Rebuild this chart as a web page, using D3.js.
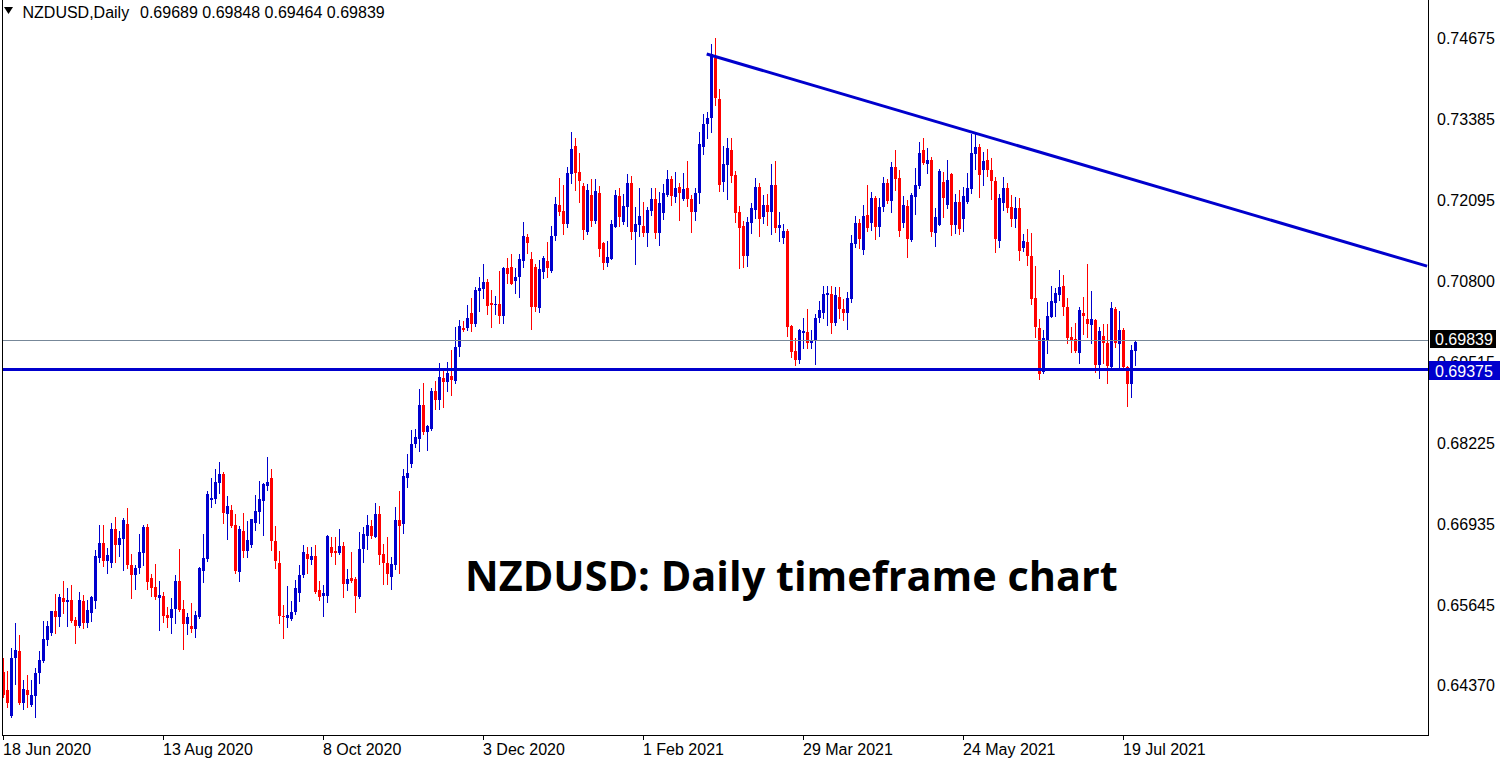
<!DOCTYPE html>
<html><head><meta charset="utf-8">
<script src="https://cdn.jsdelivr.net/npm/d3@7"></script>
<style>html,body{margin:0;padding:0;background:#fff;overflow:hidden}</style>
</head><body>
<svg id="chart" width="1510" height="764"></svg>
<script>
// ---------------- DATA ----------------
const symbolName = "NZDUSD,Daily";
const lastBarText = ["0.69689", "0.69848", "0.69464", "0.69839"];
const chartTitle = "NZDUSD: Daily timeframe chart";
const dateLabels = ["18 Jun 2020", "13 Aug 2020", "8 Oct 2020", "3 Dec 2020", "1 Feb 2021", "29 Mar 2021", "24 May 2021", "19 Jul 2021"];
const dateLabelBars = [0, 40, 80, 120, 160, 200, 240, 280];
const priceTickLabels = ["0.74675", "0.73385", "0.72095", "0.70800", "0.69515", "0.68225", "0.66935", "0.65645", "0.64370"];
const bidLevel = 0.69839;
const bidLabel = "0.69839";
const supportLevel = 0.69375;
const supportLabel = "0.69375";
const trendBars = [175.8, 355.9];
const trendPrices = [0.7442, 0.7104];

const opens = [
0.6458,0.6429,0.6387,0.6480,0.6491,0.6408,0.6429,0.6405,0.6419,0.6456,
0.6475,0.6508,0.6519,0.6554,0.6545,0.6575,0.6569,0.6572,0.6540,0.6530,
0.6570,0.6535,0.6551,0.6570,0.6639,0.6663,0.6634,0.6631,0.6686,0.6660,
0.6670,0.6694,0.6628,0.6612,0.6623,0.6647,0.6689,0.6607,0.6593,0.6575,
0.6578,0.6548,0.6543,0.6558,0.6602,0.6558,0.6534,0.6530,0.6526,0.6545,
0.6618,0.6638,0.6732,0.6733,0.6758,0.6773,0.6710,0.6716,0.6692,0.6617,
0.6682,0.6650,0.6660,0.6695,0.6713,0.6730,0.6754,0.6766,0.6666,0.6631,
0.6546,0.6543,0.6542,0.6553,0.6583,0.6612,0.6646,0.6636,0.6642,0.6588,
0.6578,0.6578,0.6657,0.6650,0.6647,0.6658,0.6598,0.6607,0.6606,0.6577,
0.6654,0.6674,0.6690,0.6673,0.6710,0.6646,0.6631,0.6609,0.6628,0.6700,
0.6694,0.6766,0.6789,0.6821,0.6829,0.6883,0.6840,0.6845,0.6905,0.6891,
0.6926,0.6920,0.6929,0.6921,0.6975,0.7005,0.7005,0.7029,0.7012,0.7064,
0.7068,0.7079,0.7045,0.7042,0.7044,0.7024,0.7101,0.7103,0.7080,0.7087,
0.7112,0.7150,0.7115,0.7103,0.7037,0.7095,0.7112,0.7096,0.7152,0.7201,
0.7192,0.7171,0.7251,0.7296,0.7254,0.7232,0.7159,0.7217,0.7176,0.7220,
0.7141,0.7109,0.7115,0.7166,0.7216,0.7174,0.7198,0.7236,0.7159,0.7170,
0.7168,0.7157,0.7192,0.7211,0.7157,0.7189,0.7217,0.7243,0.7214,0.7230,
0.7211,0.7228,0.7211,0.7190,0.7220,0.7294,0.7330,0.7340,0.7436,0.7370,
0.7238,0.7265,0.7289,0.7249,0.7190,0.7168,0.7120,0.7173,0.7194,0.7230,
0.7182,0.7201,0.7190,0.7233,0.7165,0.7149,0.7160,0.7009,0.6969,0.6955,
0.6998,0.6999,0.6982,0.6986,0.7021,0.7029,0.7058,0.7060,0.7013,0.7055,
0.7036,0.7029,0.7052,0.7139,0.7173,0.7130,0.7186,0.7173,0.7213,0.7166,
0.7198,0.7236,0.7208,0.7262,0.7244,0.7173,0.7200,0.7146,0.7214,0.7232,
0.7289,0.7267,0.7273,0.7157,0.7170,0.7238,0.7201,0.7251,0.7170,0.7206,
0.7179,0.7206,0.7227,0.7283,0.7294,0.7257,0.7273,0.7257,0.7240,0.7144,
0.7205,0.7228,0.7198,0.7179,0.7197,0.7133,0.7143,0.7120,0.7053,0.7005,
0.6936,0.6986,0.7023,0.7045,0.7058,0.7072,0.7039,0.6991,0.6988,0.6966,
0.7029,0.7020,0.7010,0.7018,0.6947,0.6993,0.6982,0.6943,0.7036,0.6980,
0.7002,0.6943,0.6916,0.69689];

const highs = [
0.6480,0.6459,0.6495,0.6535,0.6516,0.6445,0.6453,0.6445,0.6464,0.6491,
0.6538,0.6538,0.6554,0.6582,0.6582,0.6602,0.6591,0.6596,0.6545,0.6585,
0.6580,0.6572,0.6578,0.6652,0.6692,0.6692,0.6655,0.6695,0.6705,0.6682,
0.6703,0.6718,0.6646,0.6628,0.6678,0.6692,0.6694,0.6614,0.6630,0.6602,
0.6585,0.6561,0.6575,0.6612,0.6654,0.6572,0.6551,0.6567,0.6554,0.6625,
0.6678,0.6746,0.6766,0.6781,0.6792,0.6776,0.6738,0.6724,0.6710,0.6690,
0.6711,0.6698,0.6702,0.6740,0.6762,0.6758,0.6800,0.6781,0.6690,0.6650,
0.6564,0.6594,0.6570,0.6604,0.6628,0.6660,0.6657,0.6657,0.6660,0.6602,
0.6596,0.6676,0.6673,0.6673,0.6686,0.6665,0.6622,0.6649,0.6609,0.6681,
0.6689,0.6708,0.6700,0.6727,0.6722,0.6662,0.6673,0.6641,0.6721,0.6746,
0.6781,0.6805,0.6843,0.6845,0.6909,0.6918,0.6851,0.6910,0.6921,0.6949,
0.6939,0.6952,0.6970,0.7007,0.7018,0.7016,0.7042,0.7053,0.7071,0.7087,
0.7108,0.7084,0.7066,0.7056,0.7096,0.7103,0.7117,0.7124,0.7101,0.7124,
0.7174,0.7155,0.7127,0.7108,0.7114,0.7120,0.7143,0.7168,0.7214,0.7244,
0.7233,0.7262,0.7318,0.7308,0.7284,0.7236,0.7235,0.7243,0.7243,0.7232,
0.7143,0.7144,0.7178,0.7225,0.7228,0.7219,0.7251,0.7248,0.7198,0.7228,
0.7206,0.7198,0.7228,0.7228,0.7222,0.7235,0.7257,0.7248,0.7254,0.7236,
0.7252,0.7271,0.7217,0.7228,0.7318,0.7346,0.7350,0.7458,0.7467,0.7386,
0.7295,0.7308,0.7308,0.7256,0.7200,0.7176,0.7182,0.7205,0.7244,0.7236,
0.7217,0.7219,0.7267,0.7271,0.7190,0.7171,0.7163,0.7010,0.6990,0.7004,
0.7021,0.7036,0.7002,0.7028,0.7048,0.7072,0.7072,0.7072,0.7071,0.7071,
0.7052,0.7063,0.7154,0.7184,0.7179,0.7201,0.7233,0.7222,0.7216,0.7213,
0.7246,0.7243,0.7270,0.7289,0.7257,0.7216,0.7209,0.7221,0.7260,0.7302,
0.7308,0.7292,0.7278,0.7197,0.7259,0.7254,0.7273,0.7252,0.7219,0.7225,
0.7230,0.7252,0.7315,0.7316,0.7299,0.7286,0.7291,0.7276,0.7246,0.7219,
0.7246,0.7236,0.7217,0.7214,0.7213,0.7155,0.7163,0.7157,0.7104,0.7020,
0.7002,0.7047,0.7072,0.7069,0.7098,0.7090,0.7053,0.7007,0.7013,0.7039,
0.7055,0.7108,0.7064,0.7020,0.7007,0.7012,0.7012,0.7047,0.7039,0.7033,
0.7005,0.6945,0.6979,0.69848];

const lows = [
0.6418,0.6402,0.6386,0.6439,0.6406,0.6399,0.6402,0.6403,0.6386,0.6440,
0.6474,0.6500,0.6516,0.6519,0.6530,0.6551,0.6530,0.6537,0.6503,0.6529,
0.6527,0.6529,0.6538,0.6559,0.6633,0.6626,0.6615,0.6625,0.6633,0.6642,
0.6620,0.6623,0.6575,0.6590,0.6615,0.6628,0.6590,0.6578,0.6574,0.6524,
0.6537,0.6529,0.6519,0.6535,0.6554,0.6494,0.6518,0.6521,0.6514,0.6543,
0.6601,0.6634,0.6721,0.6727,0.6743,0.6695,0.6670,0.6689,0.6615,0.6602,
0.6641,0.6641,0.6657,0.6684,0.6695,0.6676,0.6747,0.6652,0.6623,0.6535,
0.6511,0.6529,0.6540,0.6550,0.6570,0.6609,0.6615,0.6630,0.6583,0.6572,
0.6546,0.6569,0.6642,0.6630,0.6646,0.6577,0.6588,0.6601,0.6553,0.6575,
0.6633,0.6654,0.6671,0.6673,0.6630,0.6598,0.6598,0.6590,0.6622,0.6615,
0.6679,0.6752,0.6784,0.6816,0.6809,0.6837,0.6811,0.6843,0.6877,0.6877,
0.6880,0.6905,0.6899,0.6918,0.6961,0.7000,0.7002,0.7000,0.7008,0.7032,
0.7053,0.7028,0.7007,0.7028,0.7013,0.7013,0.7077,0.7076,0.7061,0.7055,
0.7103,0.7125,0.7004,0.7032,0.7031,0.7085,0.7087,0.7095,0.7146,0.7186,
0.7155,0.7167,0.7237,0.7225,0.7206,0.7148,0.7155,0.7168,0.7173,0.7120,
0.7099,0.7104,0.7115,0.7166,0.7168,0.7171,0.7168,0.7148,0.7108,0.7152,
0.7152,0.7136,0.7186,0.7149,0.7138,0.7179,0.7216,0.7201,0.7206,0.7178,
0.7209,0.7200,0.7158,0.7178,0.7204,0.7283,0.7308,0.7318,0.7361,0.7224,
0.7224,0.7211,0.7238,0.7174,0.7101,0.7103,0.7104,0.7157,0.7181,0.7152,
0.7173,0.7170,0.7155,0.7158,0.7144,0.7141,0.6993,0.6959,0.6947,0.6950,
0.6974,0.6974,0.6974,0.6948,0.7015,0.7021,0.7010,0.6998,0.7010,0.7021,
0.7018,0.7004,0.7047,0.7135,0.7133,0.7124,0.7160,0.7162,0.7147,0.7152,
0.7192,0.7205,0.7190,0.7225,0.7152,0.7166,0.7119,0.7144,0.7187,0.7228,
0.7267,0.7252,0.7152,0.7136,0.7170,0.7182,0.7197,0.7154,0.7157,0.7155,
0.7160,0.7205,0.7220,0.7259,0.7214,0.7233,0.7248,0.7211,0.7127,0.7135,
0.7194,0.7190,0.7168,0.7166,0.7114,0.7128,0.7106,0.7044,0.6991,0.6924,
0.6934,0.6966,0.7023,0.7024,0.7050,0.7026,0.6982,0.6967,0.6967,0.6950,
0.6996,0.6991,0.6982,0.6935,0.6926,0.6950,0.6918,0.6943,0.6975,0.6943,
0.6942,0.6881,0.6896,0.69464];

const closes = [
0.6421,0.6408,0.6480,0.6493,0.6408,0.6431,0.6421,0.6421,0.6456,0.6477,
0.6510,0.6530,0.6554,0.6545,0.6577,0.6569,0.6572,0.6538,0.6530,0.6572,
0.6535,0.6556,0.6577,0.6642,0.6663,0.6634,0.6644,0.6686,0.6660,0.6671,
0.6700,0.6628,0.6612,0.6623,0.6649,0.6689,0.6601,0.6591,0.6577,0.6580,
0.6546,0.6543,0.6558,0.6602,0.6556,0.6534,0.6545,0.6526,0.6548,0.6623,
0.6639,0.6741,0.6735,0.6760,0.6773,0.6711,0.6722,0.6690,0.6618,0.6686,
0.6650,0.6668,0.6702,0.6714,0.6733,0.6757,0.6760,0.6666,0.6634,0.6546,
0.6545,0.6548,0.6553,0.6591,0.6612,0.6649,0.6638,0.6642,0.6585,0.6577,
0.6583,0.6674,0.6647,0.6647,0.6658,0.6598,0.6606,0.6602,0.6578,0.6654,
0.6678,0.6692,0.6674,0.6710,0.6644,0.6631,0.6614,0.6630,0.6700,0.6690,
0.6770,0.6774,0.6821,0.6832,0.6883,0.6840,0.6850,0.6905,0.6891,0.6928,
0.6920,0.6934,0.6923,0.6975,0.7008,0.7002,0.7021,0.7012,0.7066,0.7069,
0.7079,0.7040,0.7042,0.7044,0.7024,0.7101,0.7092,0.7076,0.7087,0.7115,
0.7152,0.7141,0.7039,0.7039,0.7100,0.7117,0.7101,0.7152,0.7203,0.7190,
0.7171,0.7252,0.7291,0.7252,0.7240,0.7162,0.7225,0.7176,0.7224,0.7131,
0.7109,0.7119,0.7171,0.7217,0.7182,0.7200,0.7236,0.7159,0.7171,0.7184,
0.7157,0.7194,0.7211,0.7157,0.7205,0.7220,0.7243,0.7216,0.7228,0.7220,
0.7227,0.7211,0.7190,0.7220,0.7299,0.7330,0.7340,0.7442,0.7372,0.7233,
0.7267,0.7292,0.7248,0.7189,0.7165,0.7120,0.7174,0.7197,0.7230,0.7179,
0.7201,0.7190,0.7233,0.7165,0.7170,0.7160,0.7007,0.6967,0.6955,0.7002,
0.7001,0.6982,0.6986,0.7021,0.7034,0.7060,0.7061,0.7013,0.7058,0.7036,
0.7029,0.7053,0.7141,0.7173,0.7147,0.7184,0.7165,0.7213,0.7166,0.7198,
0.7236,0.7208,0.7262,0.7243,0.7160,0.7201,0.7147,0.7217,0.7233,0.7284,
0.7268,0.7273,0.7159,0.7182,0.7256,0.7213,0.7241,0.7170,0.7206,0.7163,
0.7216,0.7228,0.7284,0.7294,0.7249,0.7271,0.7257,0.7240,0.7147,0.7213,
0.7228,0.7197,0.7179,0.7197,0.7128,0.7144,0.7120,0.7052,0.7007,0.6932,
0.6990,0.7024,0.7048,0.7061,0.7071,0.7039,0.6990,0.6986,0.6969,0.7034,
0.7024,0.7012,0.7020,0.6947,0.7001,0.6982,0.6945,0.7037,0.6982,0.7002,
0.6943,0.6916,0.6971,0.69839];

// ---------------- DRAWING ----------------
const BULL = "#0000CD", BEAR = "#FF0000", LINE_BLUE = "#0000CD", BID_GREY = "#778899";
const FONT = "'Liberation Sans', Arial, sans-serif";
const svg = d3.select("#chart");
svg.append("rect").attr("width", 1510).attr("height", 764).attr("fill", "#fff");

const plot = { left: 2, right: 1428, top: 0, bottom: 735 };

const x = d3.scaleLinear().domain([0, 283]).range([3.5, 1135.5]);
const y = d3.scaleLinear().domain([0.74675, 0.64352]).range([38, 686]);

svg.append("defs").append("clipPath").attr("id", "plotClip")
  .append("rect").attr("x", plot.left + 1).attr("y", plot.top)
  .attr("width", plot.right - plot.left - 1).attr("height", plot.bottom - plot.top);

const g = svg.append("g").attr("clip-path", "url(#plotClip)");

const bars = d3.range(closes.length).map(i => ({
  i, o: opens[i], h: highs[i], l: lows[i], c: closes[i]
}));

const candle = g.append("g").selectAll("g").data(bars).join("g");
candle.append("line")
  .attr("x1", d => x(d.i)).attr("x2", d => x(d.i))
  .attr("y1", d => Math.round(y(d.h)))
  .attr("y2", d => Math.round(y(d.l)) + 1)
  .attr("stroke", d => d.c >= d.o ? BULL : BEAR)
  .attr("stroke-width", 1);
candle.append("rect")
  .attr("x", d => x(d.i) - 1.5)
  .attr("width", 3)
  .attr("y", d => Math.round(y(Math.max(d.o, d.c))))
  .attr("height", d => Math.max(1, Math.round(y(Math.min(d.o, d.c))) - Math.round(y(Math.max(d.o, d.c)))))
  .attr("fill", d => d.c >= d.o ? BULL : BEAR);

// bid line
const yBid = Math.floor(y(bidLevel)) - 0.5;
g.append("line").attr("x1", plot.left).attr("x2", plot.right)
  .attr("y1", yBid).attr("y2", yBid)
  .attr("stroke", BID_GREY).attr("stroke-width", 1);

// support line
const ySup = Math.floor(y(supportLevel)) - 0.5;
g.append("line").attr("x1", plot.left).attr("x2", plot.right)
  .attr("y1", ySup).attr("y2", ySup)
  .attr("stroke", LINE_BLUE).attr("stroke-width", 3);

// trend line
g.append("line")
  .attr("x1", x(trendBars[0])).attr("y1", y(trendPrices[0]))
  .attr("x2", x(trendBars[1])).attr("y2", y(trendPrices[1]))
  .attr("stroke", LINE_BLUE).attr("stroke-width", 3);

// frame
svg.append("line").attr("x1", plot.left + 0.5).attr("x2", plot.left + 0.5)
  .attr("y1", 0).attr("y2", plot.bottom).attr("stroke", "#000");
svg.append("line").attr("x1", plot.right + 0.5).attr("x2", plot.right + 0.5)
  .attr("y1", 0).attr("y2", plot.bottom + 1).attr("stroke", "#000");
svg.append("line").attr("x1", plot.left).attr("x2", plot.right + 1)
  .attr("y1", plot.bottom + 0.5).attr("y2", plot.bottom + 0.5).attr("stroke", "#000");

// price axis labels
const yLabels = svg.append("g");
yLabels.selectAll("text").data(priceTickLabels).join("text")
  .attr("x", 1437).attr("y", d => y(+d)).attr("dy", "0.36em")
  .attr("font-family", FONT).attr("font-size", 16).attr("fill", "#000")
  .text(d => d);

// bid label box
svg.append("rect").attr("x", 1430).attr("y", Math.floor(y(bidLevel)) - 11)
  .attr("width", 66).attr("height", 18).attr("fill", "#000");
svg.append("text").attr("x", 1435).attr("y", Math.floor(y(bidLevel)) - 2).attr("dy", "0.36em")
  .attr("font-family", FONT).attr("font-size", 16).attr("fill", "#fff").text(bidLabel);

// support label box
svg.append("rect").attr("x", 1429).attr("y", Math.floor(y(supportLevel)) - 9)
  .attr("width", 71).attr("height", 19).attr("fill", LINE_BLUE);
svg.append("text").attr("x", 1435).attr("y", Math.floor(y(supportLevel)) + 1).attr("dy", "0.36em")
  .attr("font-family", FONT).attr("font-size", 16).attr("fill", "#fff").text(supportLabel);

// date axis
const xAxis = svg.append("g");
xAxis.selectAll("line").data(dateLabelBars).join("line")
  .attr("x1", d => Math.round(x(d)) - 0.5).attr("x2", d => Math.round(x(d)) - 0.5)
  .attr("y1", plot.bottom).attr("y2", plot.bottom + 5).attr("stroke", "#000");
xAxis.selectAll("text").data(dateLabelBars).join("text")
  .attr("x", d => x(d) - 0.5).attr("y", 755)
  .attr("font-family", FONT).attr("font-size", 16).attr("fill", "#000")
  .text((d, k) => dateLabels[k]);

// header
svg.append("path").attr("d", "M4,7 L13,7 L8.5,14 Z").attr("fill", "#000");
svg.append("text").attr("x", 22.5).attr("y", 17.5)
  .attr("font-family", FONT).attr("font-size", 16).attr("fill", "#000").text(symbolName);
svg.append("text").attr("x", 140).attr("y", 17.5)
  .attr("font-family", FONT).attr("font-size", 16).attr("fill", "#000")
  .text(lastBarText.join(" "));

// title
const title = svg.append("text").attr("x", 465).attr("y", 591)
  .attr("font-family", "'Open Sans', 'Noto Sans', sans-serif").attr("font-weight", "bold")
  .attr("font-size", 43).attr("fill", "#000").text(chartTitle);
const tw = title.node().getComputedTextLength();
if (tw > 0) title.attr("font-size", 43 * 653 / tw);
</script>
</body></html>
